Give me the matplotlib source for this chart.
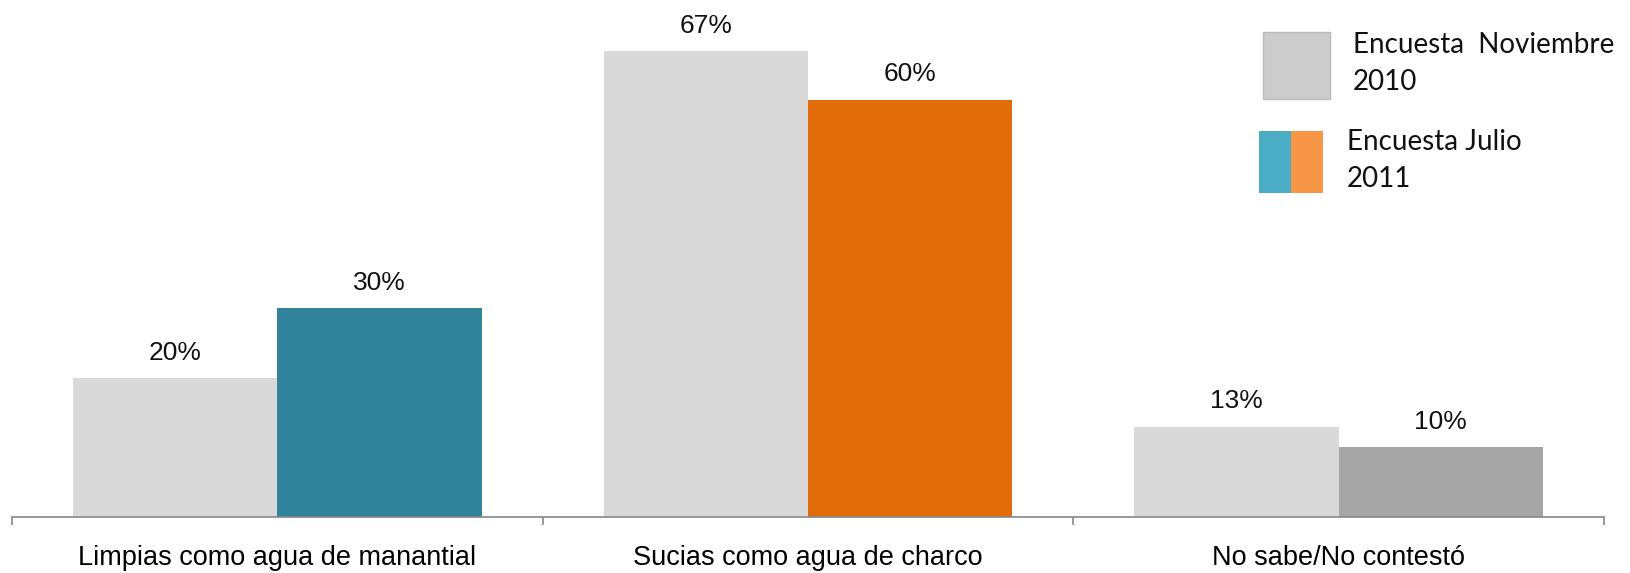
import numpy as np
import matplotlib.pyplot as plt
from matplotlib.patches import Rectangle

categories = ["Limpias como agua de manantial", "Sucias como agua de charco", "No sabe/No contestó"]
nov_2010 = [20, 67, 13]
jul_2011 = [30, 60, 10]
jul_colors = ["#31849B", "#E36C0A", "#A6A6A6"]
nov_color = "#D9D9D9"

W, H = 1631, 573
fig = plt.figure(figsize=(W / 100, H / 100), dpi=100)
ax = fig.add_axes([12 / W, 1 - 517 / H, 1592 / W, 517 / H])

x = np.arange(len(categories))
bw = 0.385
b1 = ax.bar(x - bw / 2, nov_2010, bw, color=nov_color)
b2 = ax.bar(x + bw / 2, jul_2011, bw, color=jul_colors)

for bars, vals in [(b1, nov_2010), (b2, jul_2011)]:
    for b, v in zip(bars, vals):
        ax.annotate(f"{v}%", (b.get_x() + b.get_width() / 2, v), xytext=(0, 13),
                    textcoords="offset points", ha="center", va="baseline",
                    fontsize=19, family="Liberation Sans", color="#111111")

ax.set_xlim(-0.5, 2.5)
ax.set_ylim(0, 74.3)
ax.set_yticks([])
for s in ["top", "right", "left"]:
    ax.spines[s].set_visible(False)
ax.spines["bottom"].set_color("#888888")
ax.spines["bottom"].set_linewidth(1.2)

ax.set_xticks([-0.5, 0.5, 1.5, 2.5], minor=False)
ax.set_xticklabels([])
ax.tick_params(axis="x", which="major", length=6, width=1.2, color="#888888")
ax.set_xticks(x, minor=True)
ax.set_xticklabels(categories, minor=True, fontsize=19.5, family="Liberation Sans")
ax.tick_params(axis="x", which="minor", length=0, pad=20)

# legend drawn by hand
fig.patches.append(Rectangle((1263 / W, 1 - 99 / H), 67 / W, 67 / H, transform=fig.transFigure,
                             facecolor="#CCCCCC", edgecolor="#BBBBBB", linewidth=1))
fig.patches.append(Rectangle((1259 / W, 1 - 193 / H), 32 / W, 62 / H, transform=fig.transFigure,
                             facecolor="#4BACC6", edgecolor="none"))
fig.patches.append(Rectangle((1291 / W, 1 - 193 / H), 32 / W, 62 / H, transform=fig.transFigure,
                             facecolor="#F79646", edgecolor="none"))
leg_font = dict(fontsize=20, family="Lato", color="#111111", va="baseline")
fig.text(1353 / W, 1 - 53 / H, "Encuesta  Noviembre", **leg_font)
fig.text(1353 / W, 1 - 90 / H, "2010", **leg_font)
fig.text(1347 / W, 1 - 150 / H, "Encuesta Julio", **leg_font)
fig.text(1347 / W, 1 - 187 / H, "2011", **leg_font)

fig.savefig("out.png", dpi=100)
plt.close()
